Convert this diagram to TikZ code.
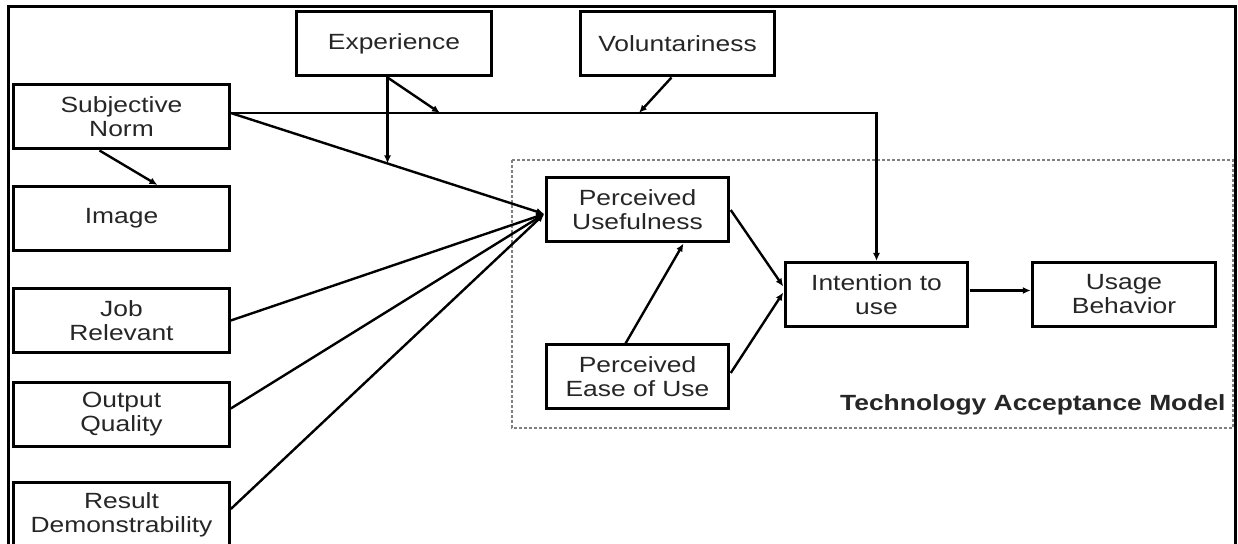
\documentclass[tikz,border=0pt]{standalone}
\usepackage{fontspec}
\setmainfont{Liberation Sans}
\usetikzlibrary{arrows.meta}

\tikzset{
  box/.style={draw, line width=1.5pt, xscale=1.2, inner sep=0pt, minimum height=32pt,
    align=center, text=black!85, font=\fontsize{11}{12}\selectfont},
  leftbox/.style={box, minimum width=89.6pt},
  topbox/.style={box, minimum width=81.2pt},
  tambox/.style={box, minimum width=76.2pt},
  link/.style={line width=1.2pt, -{Latex[length=4pt,width=3.5pt]}},
}

\begin{document}
\begin{tikzpicture}[x=0.5pt, y=-0.5pt]%one unit = one pixel of the figure
      \useasboundingbox (0,0) rectangle (1238,544);
      \draw[line width=1.5pt] (8,7) rectangle (1235,570);
      % TAM frame
      \draw[gray, line width=0.9pt, dash pattern=on 1.5pt off 1pt] (512,160) rectangle (1233,428);
      \node[anchor=east, xscale=1.2, text=black!85, font=\fontsize{11}{12}\selectfont\bfseries] (tamlabel) at (1234,405) {Technology Acceptance Model};

      % external variables
      \node[topbox] (exper) at (394,44) {Experience};
      \node[topbox] (volun) at (677.5,44) {Voluntariness};
      \node[leftbox] (subj) at (121.5,117) {Subjective\\Norm};
      \node[leftbox] (image) at (121.5,218.5) {Image};
      \node[leftbox] (jobrel) at (121.5,320.5) {Job\\Relevant};
      \node[leftbox] (output) at (121.5,414.5) {Output\\Quality};
      \node[leftbox] (result) at (121.5,515) {Result\\Demonstrability};

      % TAM
      \node[tambox] (useful) at (637.5,210) {Perceived\\Usefulness};
      \node[tambox] (ease) at (637.5,377) {Perceived\\Ease of Use};
      \node[tambox] (intent) at (876.5,294.5) {Intention to\\use};
      \node[tambox] (usage) at (1124,294.5) {Usage\\Behavior};

      \coordinate (sn) at ([yshift=2pt]subj.east);
      \coordinate (pu) at ([yshift=-2pt]useful.west);
      \path (sn) -- (pu) coordinate[pos=0.5] (m1);
      \coordinate (m2) at (440,113);
      \coordinate (m3) at (639,113);

      \draw[link] (sn) -- (sn -| intent.north) -- (intent.north);
      \draw[link] (sn) -- (pu);
      \draw[link] (m1 |- exper.south) -- (m1);
      \draw[link] (m1 |- exper.south) -- (m2);
      \draw[link] ([xshift=-3pt]volun.south) -- (m3);
      \draw[link] ([xshift=-11pt]subj.south) -- ([xshift=18pt]image.north);
      \draw[link] (jobrel.east) -- (pu);
      \draw[link] ([yshift=3pt]output.east) -- (pu);
      \draw[link] ([yshift=3pt]result.east) -- (pu);
      \draw[link] ([xshift=-6pt]ease.north) -- ([xshift=23pt]useful.south);
      \draw[link] (useful.east) -- ([yshift=4pt]intent.west);
      \draw[link] ([yshift=2pt]ease.east) -- ([yshift=1pt]intent.west);
      \draw[link] ([yshift=2pt]intent.east) -- ([yshift=2pt]usage.west);
\end{tikzpicture}
\end{document}
